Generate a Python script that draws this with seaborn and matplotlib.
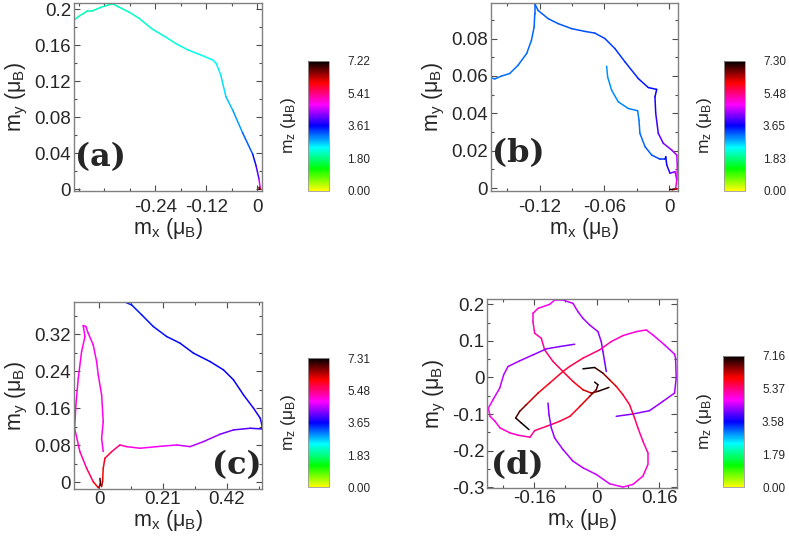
import numpy as np
import matplotlib
matplotlib.use("Agg")
import matplotlib.pyplot as plt
import seaborn as sns
from matplotlib.collections import LineCollection
from matplotlib.colors import LinearSegmentedColormap, Normalize
from matplotlib.cm import ScalarMappable
from matplotlib.ticker import AutoMinorLocator

nan = np.nan

# ---- panel (a) ----
a_mx = [-0.434, -0.420, -0.400, -0.389, -0.369, -0.349, -0.340, -0.326, -0.302, -0.278,
        -0.247, -0.215, -0.192, -0.164, -0.137, -0.105, -0.097, -0.086, -0.074, -0.058,
        -0.035, -0.011, -0.003, 0.004, 0.0064, 0.0066, 0.0045, 0.004]
a_my = [0.187, 0.192, 0.198, 0.198, 0.202, 0.205, 0.206, 0.2026, 0.197, 0.190,
        0.178, 0.169, 0.162, 0.155, 0.150, 0.1437, 0.140, 0.127, 0.103, 0.088,
        0.063, 0.039, 0.026, 0.011, 0.002, 0.0004, -0.0002, 0.002]
a_mz = [2.05, 2.06, 2.08, 2.09, 2.10, 2.12, 2.13, 2.14, 2.16, 2.18,
        2.20, 2.22, 2.24, 2.27, 2.30, 2.35, 2.40, 2.50, 2.62, 2.75,
        2.95, 3.40, 3.70, 4.30, 5.00, 6.00, 6.80, 7.22]

# ---- panel (b) : outer branch, nan, inner branch ----
b_mx = [-0.166, -0.1616, -0.1554, -0.1477, -0.140, -0.132, -0.1276, -0.1251, -0.1245, -0.1245,
        -0.1214, -0.112, -0.103, -0.0905, -0.078, -0.0689, -0.0596, -0.0503, -0.041, -0.0287,
        -0.0195, -0.0117, -0.0133, -0.0126, -0.0102, -0.0056, 0.0022, 0.0069, 0.0074, 0.0069,
        0.0059, 0.0069, 0.003, 0.0005, nan,
        -0.058, -0.0571, -0.0534, -0.0473, -0.038, -0.0293, -0.0281, -0.0272, -0.0225, -0.0163,
        -0.0086, -0.004, -0.0033, -0.0024, 0.0006, 0.0053, 0.0069]
b_my = [0.0592, 0.0584, 0.0599, 0.0613, 0.0657, 0.072, 0.079, 0.0861, 0.0933, 0.0986,
        0.095, 0.0906, 0.088, 0.0853, 0.0838, 0.0829, 0.080, 0.0746, 0.0675, 0.0586,
        0.0538, 0.0528, 0.0488, 0.040, 0.0293, 0.024, 0.0204, 0.0177, 0.0115, 0.0044,
        0.0, -0.0005, -0.0008, -0.0006, nan,
        0.0652, 0.0595, 0.0524, 0.0462, 0.0426, 0.0414, 0.0364, 0.0293, 0.0222, 0.0177,
        0.0155, 0.0155, 0.0168, 0.0124, 0.008, 0.0088, 0.0044]
b_mz = [3.10, 3.11, 3.12, 3.13, 3.14, 3.15, 3.16, 3.17, 3.18, 3.19,
        3.20, 3.22, 3.24, 3.26, 3.28, 3.30, 3.33, 3.37, 3.42, 3.50,
        3.58, 3.65, 3.72, 3.85, 4.00, 4.15, 4.30, 4.45, 4.65, 4.85,
        5.20, 6.00, 6.80, 7.30, nan,
        2.95, 2.96, 2.98, 3.00, 3.02, 3.05, 3.08, 3.12, 3.18, 3.25,
        3.35, 3.45, 3.55, 3.75, 4.00, 4.30, 4.85]

# ---- panel (c) ----
c_mx = [0.0682, 0.1068, 0.1398, 0.178, 0.222, 0.266, 0.310, 0.365, 0.409, 0.442,
        0.475, 0.508, 0.530, 0.5355, 0.5355, 0.497, 0.442, 0.398, 0.343, 0.299,
        0.255, 0.189, 0.134, 0.090, 0.068, 0.041, 0.0188, 0.0132, 0.011, 0.0079, nan,
        0.0132, 0.0079, 0.0132, 0.0079, -0.0033, -0.0086, -0.0198, -0.0363, -0.0439, -0.0528,
        -0.047, -0.058, -0.069, -0.0768, -0.081, -0.0636, -0.0415, -0.0198, -0.0033, 0.0046, 0.0023]
c_my = [0.394, 0.383, 0.3617, 0.3364, 0.3148, 0.3005, 0.279, 0.2607, 0.2428, 0.2212,
        0.1887, 0.160, 0.1384, 0.1239, 0.1152, 0.1167, 0.1131, 0.1038, 0.0878, 0.077,
        0.0806, 0.077, 0.0735, 0.077, 0.0806, 0.0662, 0.0519, 0.0303, 0.0013, -0.0095, nan,
        0.0662, 0.0951, 0.131, 0.1887, 0.232, 0.2607, 0.2968, 0.322, 0.3364, 0.3386,
        0.3148, 0.2824, 0.2248, 0.167, 0.1167, 0.0662, 0.0303, 0.0013, -0.0117, -0.0058, 0.0086]
c_mz = [3.55, 3.56, 3.57, 3.58, 3.60, 3.62, 3.64, 3.66, 3.68, 3.70,
        3.72, 3.75, 3.78, 3.80, 3.85, 4.00, 4.15, 4.30, 4.45, 4.60,
        4.70, 4.85, 4.95, 5.05, 5.30, 5.70, 5.90, 6.00, 6.20, 6.50, nan,
        5.05, 5.00, 4.98, 4.95, 4.93, 4.92, 4.90, 4.90, 4.90, 4.90,
        4.92, 4.93, 4.95, 4.97, 5.00, 5.10, 5.40, 5.90, 6.20, 6.60, 7.31]

# ---- panel (d) : four lobes (top, right, left, bottom) ----
d_mx = [0.0247, 0.0205, 0.0162, 0.0119, 0.0034, -0.0179, -0.035, -0.0478, -0.0606, -0.0862,
        -0.1075, -0.1203, -0.150, -0.163, -0.163, -0.1587, -0.1416, -0.1331, -0.1117, -0.0862,
        -0.0606, -0.035, -0.0136, 0.0034, 0.0316, nan,
        0.0503, 0.093, 0.1356, 0.1697, 0.1996, 0.2039, 0.2022, 0.1996, 0.174, 0.1442,
        0.1271, 0.1015, 0.0674, 0.0375, 0.0077, -0.035, -0.0691, -0.0862, -0.1203, -0.150,
        -0.180, -0.197, -0.2073, -0.1928, -0.1732, nan,
        -0.0563, -0.0947, -0.1288, -0.1629, -0.197, -0.2269, -0.238, -0.2482, -0.2653, -0.2772,
        -0.273, -0.2602, -0.2474, -0.2218, -0.2005, -0.1706, -0.1587, -0.128, -0.0947, -0.0682,
        -0.0427, -0.0179, -0.0009, 0.0034, -0.0051, nan,
        -0.1245, -0.122, -0.116, -0.1075, -0.0862, -0.0606, -0.035, -0.0009, 0.0333, 0.0674,
        0.093, 0.1186, 0.1314, 0.1314, 0.1186, 0.1058, 0.0972, 0.0844, 0.0674, 0.0503,
        0.0333, 0.0162, -0.0051, -0.035]
d_my = [0.0163, 0.0436, 0.0708, 0.098, 0.1253, 0.1435, 0.1616, 0.1798, 0.2025, 0.2116,
        0.2116, 0.1998, 0.1889, 0.1752, 0.1525, 0.1208, 0.1071, 0.0754, 0.0436, 0.0163,
        -0.0109, -0.0336, -0.0427, -0.0381, -0.0272, nan,
        -0.1062, -0.0999, -0.0908, -0.0654, -0.0427, -0.0018, 0.0527, 0.0636, 0.089, 0.1162,
        0.1298, 0.1253, 0.1144, 0.098, 0.0754, 0.0527, 0.03, 0.0163, -0.0154, -0.0427,
        -0.0745, -0.0926, -0.1108, -0.1244, -0.1426, nan,
        0.0908, 0.0844, 0.0781, 0.0617, 0.0454, 0.030, 0.0073, -0.0291, -0.0608, -0.0835,
        -0.1062, -0.1199, -0.138, -0.1516, -0.158, -0.1634, -0.1453, -0.1335, -0.1199, -0.1062,
        -0.079, -0.0518, -0.0336, -0.020, -0.0127, nan,
        -0.0699, -0.1017, -0.138, -0.1653, -0.197, -0.2288, -0.247, -0.2651, -0.2906, -0.2996,
        -0.2924, -0.2697, -0.2379, -0.2061, -0.1743, -0.138, -0.1108, -0.0745, -0.0472, -0.0245,
        -0.0064, 0.0118, 0.0272, 0.0236]
d_mz = [4.10, 4.15, 4.20, 4.25, 4.30, 4.33, 4.36, 4.40, 4.45, 4.55,
        4.70, 4.80, 4.90, 4.95, 5.00, 5.05, 5.15, 5.30, 5.45, 5.60,
        5.80, 6.00, 6.40, 6.90, 7.10, nan,
        4.15, 4.20, 4.25, 4.30, 4.35, 4.40, 4.45, 4.50, 4.60, 4.75,
        4.90, 4.95, 5.00, 5.10, 5.30, 5.55, 5.65, 5.70, 5.80, 6.00,
        6.40, 6.70, 6.90, 7.05, 7.16, nan,
        4.15, 4.20, 4.25, 4.30, 4.35, 4.40, 4.45, 4.55, 4.65, 4.75,
        4.85, 4.92, 4.97, 5.00, 5.05, 5.15, 5.35, 5.50, 5.60, 5.70,
        5.95, 6.30, 6.70, 6.95, 7.10, nan,
        4.15, 4.20, 4.25, 4.30, 4.35, 4.40, 4.45, 4.50, 4.60, 4.75,
        4.90, 4.95, 5.00, 5.05, 5.15, 5.35, 5.55, 5.65, 5.75, 5.90,
        6.30, 6.70, 7.00, 7.16]

# axis settings per panel
a_xlim, a_ylim = (-0.431, 0.011), (-0.002, 0.207)
b_xlim, b_ylim = (-0.165, 0.0083), (-0.0015, 0.099)
c_xlim, c_ylim = (-0.083, 0.537), (-0.0145, 0.390)
d_xlim, d_ylim = (-0.28, 0.205), (-0.303, 0.2136)
a_xticks, a_yticks = [-0.24, -0.12, 0], [0, 0.04, 0.08, 0.12, 0.16, 0.2]
b_xticks, b_yticks = [-0.12, -0.06, 0], [0, 0.02, 0.04, 0.06, 0.08]
c_xticks, c_yticks = [0, 0.21, 0.42], [0, 0.08, 0.16, 0.24, 0.32]
d_xticks, d_yticks = [-0.16, 0, 0.16], [-0.3, -0.2, -0.1, 0, 0.1, 0.2]
a_cbar = ["0.00", "1.80", "3.61", "5.41", "7.22"]
b_cbar = ["0.00", "1.83", "3.65", "5.48", "7.30"]
c_cbar = ["0.00", "1.83", "3.65", "5.48", "7.31"]
d_cbar = ["0.00", "1.79", "3.58", "5.37", "7.16"]
mz_max = [7.22, 7.30, 7.31, 7.16]

sns.set_theme(style="ticks", rc={
    "xtick.direction": "in", "ytick.direction": "in",
    "xtick.top": True, "ytick.right": True,
    "axes.unicode_minus": False,
})
plt.rcParams["font.family"] = ["Liberation Sans", "DejaVu Sans"]
plt.rcParams["mathtext.fontset"] = "custom"
plt.rcParams["mathtext.rm"] = "Liberation Sans"
plt.rcParams["mathtext.it"] = "Liberation Sans"

# yellow -> green -> cyan -> blue -> magenta -> red -> black
cmap = LinearSegmentedColormap.from_list(
    "mz", ["#ffff00", "#00ff00", "#00ffff", "#0000ff", "#ff00ff", "#ff0000", "#000000"])

lab_x = r"m$_\mathregular{x}$ (μ$_\mathregular{B}$)"
lab_y = r"m$_\mathregular{y}$ (μ$_\mathregular{B}$)"
lab_z = r"m$_\mathregular{z}$ (μ$_\mathregular{B}$)"


def colored_path(ax, mx, my, mz, norm):
    pts = np.column_stack([mx, my])
    segs = np.stack([pts[:-1], pts[1:]], axis=1)
    mz = np.asarray(mz, dtype=float)
    vals = 0.5 * (mz[:-1] + mz[1:])
    ok = np.isfinite(segs).all(axis=(1, 2))
    lc = LineCollection(segs[ok], cmap=cmap, norm=norm, linewidth=1.1,
                        capstyle="round", joinstyle="round")
    lc.set_array(vals[ok])
    ax.add_collection(lc)


def style_axes(ax, xlim, ylim, xticks, yticks, xpad):
    ax.set_xlim(*xlim)
    ax.set_ylim(*ylim)
    ax.set_xticks(xticks)
    ax.set_yticks(yticks)
    ax.set_xticklabels(["%g" % t for t in xticks])
    ax.set_yticklabels(["%g" % t for t in yticks])
    ax.xaxis.set_minor_locator(AutoMinorLocator(2))
    ax.yaxis.set_minor_locator(AutoMinorLocator(2))
    ax.tick_params(which="major", length=4, width=0.8, color="0.3", labelsize=13.5)
    ax.tick_params(which="minor", length=2.5, width=0.8, color="0.3")
    ax.tick_params(axis="x", which="major", pad=xpad)
    ax.tick_params(axis="y", which="major", pad=2)
    for sp in ax.spines.values():
        sp.set_color("0.5")
        sp.set_linewidth(1.0)
    ax.set_xlabel(lab_x, fontsize=15.5, labelpad=0)
    ax.set_ylabel(lab_y, fontsize=15.5, labelpad=3)


def add_cbar(fig, rect, vmax, labels):
    cax = fig.add_axes(rect)
    sm = ScalarMappable(norm=Normalize(0, vmax), cmap=cmap)
    cb = fig.colorbar(sm, cax=cax)
    cb.set_ticks(np.linspace(0, vmax, 5))
    cb.set_ticklabels(labels)
    cb.outline.set_edgecolor("0.6")
    cb.outline.set_linewidth(0.6)
    cax.tick_params(length=0, labelsize=8.5, pad=13)
    cax.yaxis.set_label_position("left")
    cax.set_ylabel(lab_z, fontsize=12.5, labelpad=7)


fig = plt.figure(figsize=(7.89, 5.36), dpi=100)

panels = [
    ((0.0938, 0.6437, 0.2383, 0.3507), (0.3904, 0.6442, 0.0266, 0.2420),
     a_mx, a_my, a_mz, a_xlim, a_ylim, a_xticks, a_yticks, a_cbar, "(a)", (0.005, 0.18, "left"), 6),
    ((0.6223, 0.6437, 0.2374, 0.3507), (0.9176, 0.6442, 0.0266, 0.2420),
     b_mx, b_my, b_mz, b_xlim, b_ylim, b_xticks, b_yticks, b_cbar, "(b)", (0.005, 0.20, "left"), 6),
    ((0.0938, 0.0877, 0.2387, 0.3494), (0.3904, 0.0909, 0.0266, 0.2407),
     c_mx, c_my, c_mz, c_xlim, c_ylim, c_xticks, c_yticks, c_cbar, "(c)", (0.995, 0.125, "right"), 1.5),
    ((0.6176, 0.0890, 0.2400, 0.3526), (0.9167, 0.0909, 0.0262, 0.2450),
     d_mx, d_my, d_mz, d_xlim, d_ylim, d_xticks, d_yticks, d_cbar, "(d)", (0.02, 0.118, "left"), 1.5),
]

for i, (rect, crect, mx, my, mz, xl, yl, xt, yt, cl, tag, (tx, ty, ha), xpad) in enumerate(panels):
    ax = fig.add_axes(rect)
    norm = Normalize(0, mz_max[i])
    colored_path(ax, mx, my, mz, norm)
    style_axes(ax, xl, yl, xt, yt, xpad)
    ax.text(tx, ty, tag, transform=ax.transAxes, ha=ha, va="center",
            fontsize=23, fontweight="bold", family="DejaVu Serif")
    add_cbar(fig, crect, mz_max[i], cl)

fig.savefig("out.png", dpi=100)
